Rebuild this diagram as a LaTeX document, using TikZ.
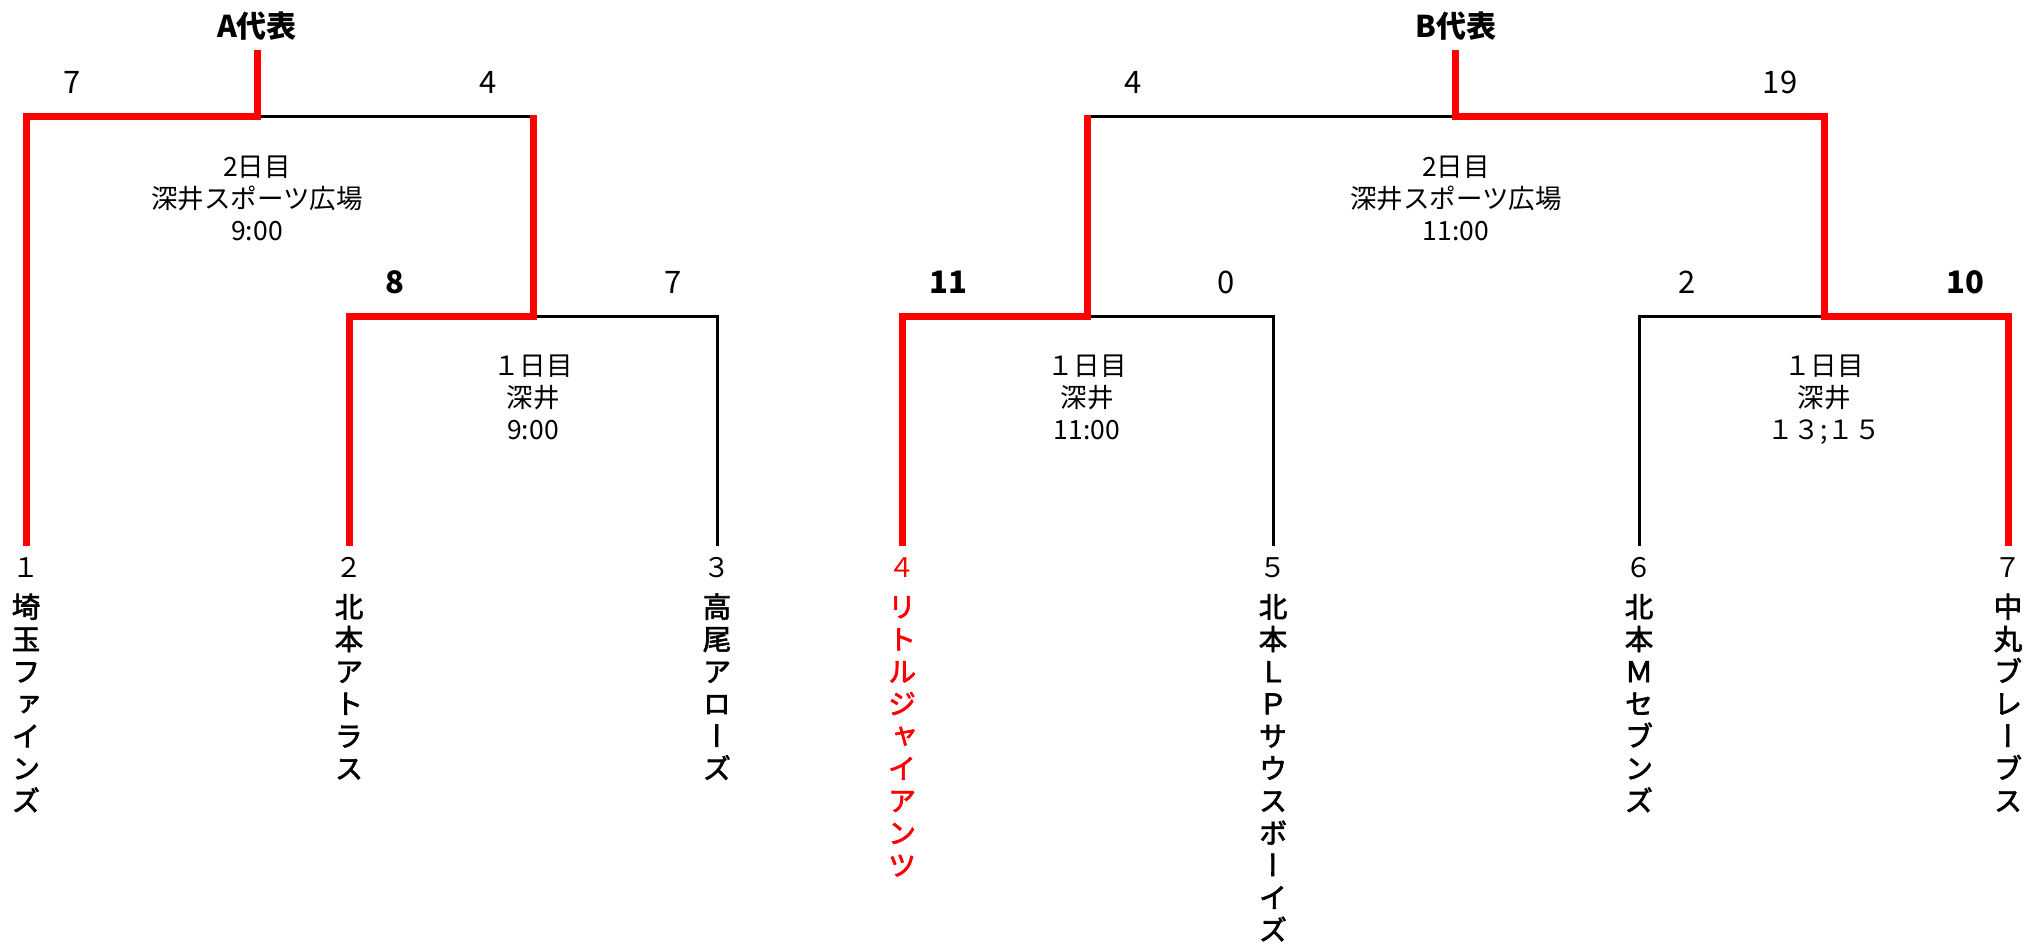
\documentclass[tikz,border=0pt]{standalone}
\usepackage{fontspec}
\setmainfont{Noto Sans CJK JP}
\newfontfamily\vfont[RawFeature=+vert,FakeBold=2.2]{Noto Sans CJK JP}
\begin{document}
\begin{tikzpicture}[x=1pt,y=-1pt,
  redl/.style={draw=red, line width=7pt, line join=miter, line cap=butt},
  blkl/.style={draw=black, line width=3pt, line join=miter},
  score/.style={anchor=base, inner sep=0pt, font=\fontsize{31}{31}\selectfont},
  wscore/.style={anchor=base, inner sep=0pt, font=\fontsize{31}{31}\selectfont\bfseries},
  titlet/.style={anchor=base, inner sep=0pt, font=\fontsize{30}{30}\selectfont\bfseries},
  venue/.style={anchor=base, inner sep=0pt, font=\fontsize{26.5}{26.5}\selectfont},
  num/.style={anchor=base, inner sep=0pt, font=\fontsize{27}{27}\selectfont},
  tch/.style={anchor=base, inner sep=0pt, font=\vfont\fontsize{28.5}{28.5}\selectfont},
]
\fill[white] (0,0) rectangle (2026,947);
\useasboundingbox (0,0) rectangle (2026,947);

% ---------- coordinates ----------
% A block
\coordinate (aT) at (257,50);   \coordinate (aJ) at (257,117);
\coordinate (a1) at (26,117);   \coordinate (a1e) at (26,546);
\coordinate (aR) at (533,117);  \coordinate (aRt) at (533,115.5); \coordinate (aRb) at (533,316);
\coordinate (a2) at (349,316);  \coordinate (a2e) at (349,546);
\coordinate (a3) at (717,316);  \coordinate (a3e) at (717,546);
% B block
\coordinate (bT) at (1455,50);  \coordinate (bJ) at (1455,117);
\coordinate (bL) at (1087,117); \coordinate (bLt) at (1087,115.5); \coordinate (bLb) at (1087,316);
\coordinate (bR) at (1824,117); \coordinate (bRb) at (1824,316);
\coordinate (b4) at (902,316);  \coordinate (b4e) at (902,546);
\coordinate (b5) at (1273,316); \coordinate (b5e) at (1273,546);
\coordinate (b6) at (1639,316); \coordinate (b6e) at (1639,546);
\coordinate (b7) at (2008,316); \coordinate (b7e) at (2008,546);

% ---------- black lines ----------
\draw[blkl] (aJ) -- (aR);
\draw[blkl] (aRb) -- (a3) -- (a3e);
\draw[blkl] (bJ) -- (bL);
\draw[blkl] (bLb) -- (b5) -- (b5e);
\draw[blkl] (bRb) -- (b6) -- (b6e);

% ---------- red lines ----------
\draw[redl] (aT) -- (aJ) -- (a1) -- (a1e);
\draw[redl] (aRt) -- (aRb) -- (a2) -- (a2e);
\draw[redl] (bT) -- (bJ) -- (bR) -- (bRb) -- (b7) -- (b7e);
\draw[redl] (bLt) -- (bLb) -- (b4) -- (b4e);

% ---------- titles ----------
\node[titlet] (tA) at (257,38) {A代表};
\node[titlet] (tB) at (1456,38) {B代表};

% ---------- scores ----------
\node[score]  (sA1) at (72,94) {7};
\node[score]  (sA2) at (488,94) {4};
\node[wscore] (sA3) at (395,293) {8};
\node[score]  (sA4) at (673,293) {7};
\node[score]  (sB1) at (1133,94) {4};
\node[score]  (sB2) at (1780,94) {19};
\node[wscore] (sB3) at (948,293) {11};
\node[score]  (sB4) at (1226,293) {0};
\node[score]  (sB5) at (1687,293) {2};
\node[wscore] (sB6) at (1965,293) {10};

% ---------- venues ----------
\node[venue] (vA1) at (257,176.5) {2日目};
\node[venue] (vA2) at (257,208.5) {深井スポーツ広場};
\node[venue] (vA3) at (257,240.5) {9:00};
\node[venue] (vB1) at (1456,176.5) {2日目};
\node[venue] (vB2) at (1456,208.5) {深井スポーツ広場};
\node[venue] (vB3) at (1456,240.5) {11:00};
\node[venue] (vC1) at (533,375) {１日目};
\node[venue] (vC2) at (533,407) {深井};
\node[venue] (vC3) at (533,439) {9:00};
\node[venue] (vD1) at (1087,375) {１日目};
\node[venue] (vD2) at (1087,407) {深井};
\node[venue] (vD3) at (1087,439) {11:00};
\node[venue] (vE1) at (1824,375) {１日目};
\node[venue] (vE2) at (1824,407) {深井};
\node[venue] (vE3) at (1824,439) {１３;１５};

% ---------- team numbers ----------
\node[num] (n1) at (26,577) {１};
\node[num] (n2) at (349,577) {２};
\node[num] (n3) at (717,577) {３};
\node[num,text=red] (n4) at (902,577) {４};
\node[num] (n5) at (1273,577) {５};
\node[num] (n6) at (1639,577) {６};
\node[num] (n7) at (2008,577) {７};

% ---------- team names (vertical) ----------
\foreach \c [count=\i from 0] in {埼,玉,フ,ァ,イ,ン,ズ}
  \node[tch] (t1-\i) at ({26},{617.5+32.3*\i}) {\c};
\foreach \c [count=\i from 0] in {北,本,ア,ト,ラ,ス}
  \node[tch] (t2-\i) at ({349},{617.5+32.3*\i}) {\c};
\foreach \c [count=\i from 0] in {高,尾,ア,ロ,ー,ズ}
  \node[tch] (t3-\i) at ({717},{617.5+32.3*\i}) {\c};
\foreach \c [count=\i from 0] in {リ,ト,ル,ジ,ャ,イ,ア,ン,ツ}
  \node[tch,text=red] (t4-\i) at ({902},{617.5+32.3*\i}) {\c};
\foreach \c [count=\i from 0] in {北,本,Ｌ,Ｐ,サ,ウ,ス,ボ,ー,イ,ズ}
  \node[tch] (t5-\i) at ({1273},{617.5+32.3*\i}) {\c};
\foreach \c [count=\i from 0] in {北,本,Ｍ,セ,ブ,ン,ズ}
  \node[tch] (t6-\i) at ({1639},{617.5+32.3*\i}) {\c};
\foreach \c [count=\i from 0] in {中,丸,ブ,レ,ー,ブ,ス}
  \node[tch] (t7-\i) at ({2008},{617.5+32.3*\i}) {\c};
\end{tikzpicture}
\end{document}
